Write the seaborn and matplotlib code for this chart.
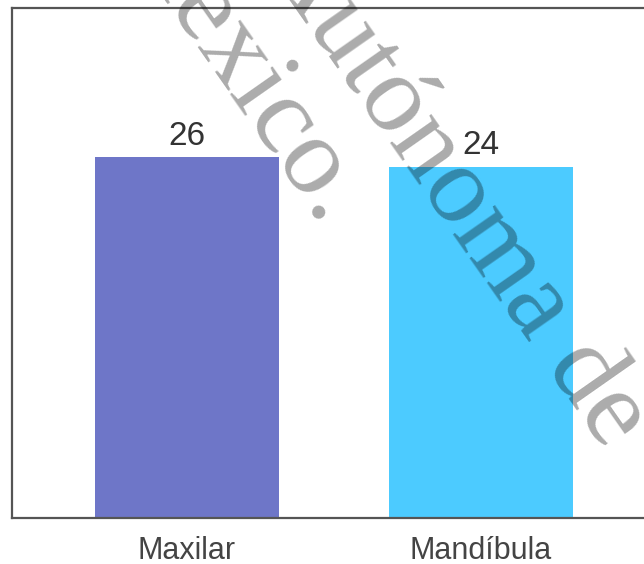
import matplotlib
matplotlib.use("Agg")
import matplotlib.pyplot as plt
import seaborn as sns
import pandas as pd

categories = ["Maxilar", "Mandíbula"]
values = [26, 24]
bar_colors = ["#6E76C8", "#4CCBFF"]
watermark_lines = ["Autónoma de", "México."]

sns.set_style("white")
plt.rcParams["font.family"] = ["Liberation Sans", "DejaVu Sans"]

df = pd.DataFrame({"region": categories, "count": values})

fig = plt.figure(figsize=(6.44, 5.64), dpi=100)
ax = fig.add_axes([12 / 644, 46 / 564, 664 / 644, 510 / 564])
sns.barplot(data=df, x="region", y="count", hue="region", palette=bar_colors,
            width=0.626, saturation=1, legend=False, ax=ax)

base, top = -50, 57.4
ax.set_ylim(base, top)
ax.set_xlim(-0.595, 1.663)
for p in ax.patches:
    t = p.get_y() + p.get_height()
    p.set_y(base)
    p.set_height(t - base)
    p.set_linewidth(0)

for c in ax.containers:
    ax.bar_label(c, fmt="%d", padding=4, fontsize=24, color="#333333")

ax.set_xlabel("")
ax.set_ylabel("")
ax.set_yticks([])
ax.tick_params(axis="x", length=0, pad=13, labelsize=22, labelcolor="#444444")
for s in ["left", "top", "bottom", "right"]:
    ax.spines[s].set_color("#555555")
    ax.spines[s].set_linewidth(1.6)

wm_kw = dict(rotation=-55, rotation_mode="anchor", ha="left", va="baseline",
             fontsize=80, family="Liberation Serif", color="black", alpha=0.33, zorder=10)
fig.text(260 / 644, 1 + 42 / 564, watermark_lines[0], **wm_kw)
fig.text(110 / 644, 1 + 72 / 564, watermark_lines[1], **wm_kw)

fig.savefig("out.png", dpi=100)
